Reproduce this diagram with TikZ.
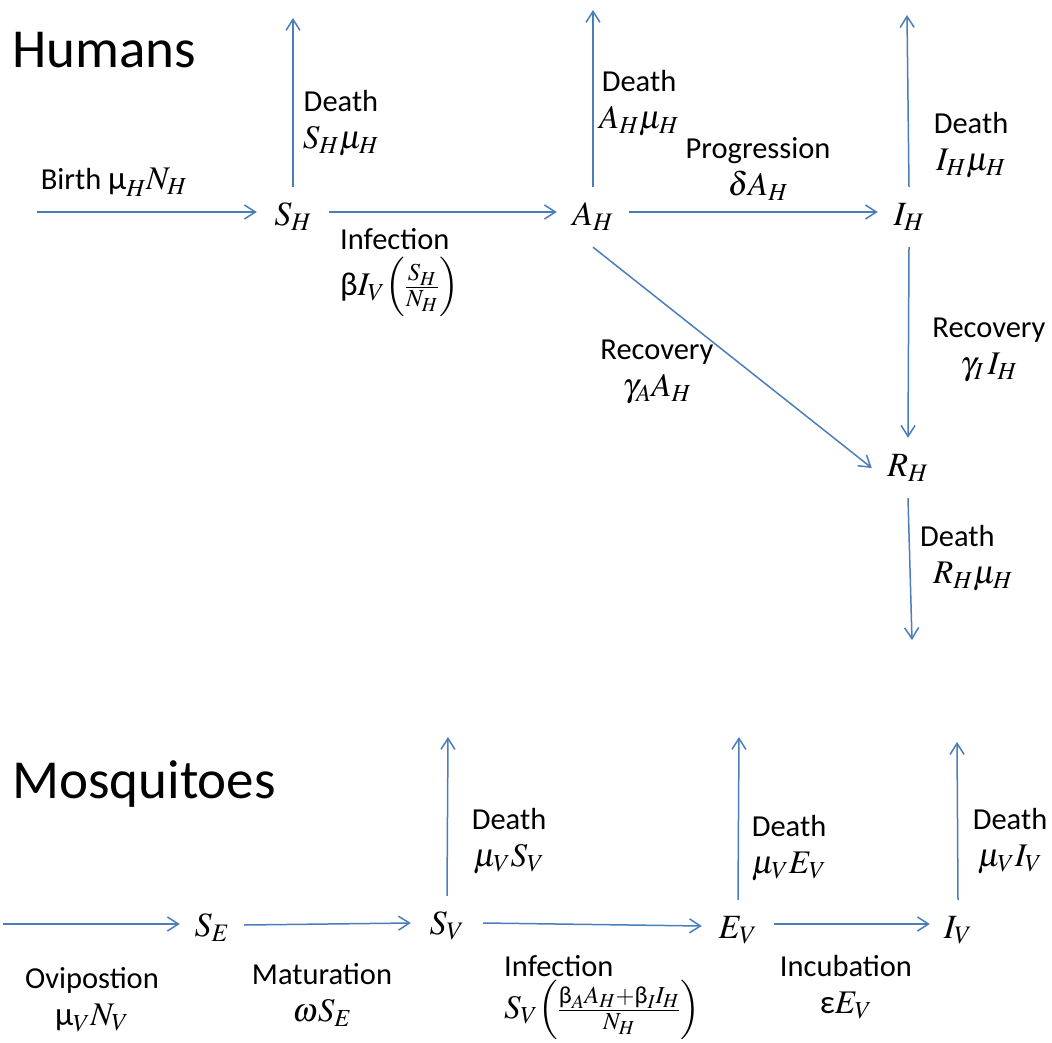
\RequirePackage{fix-cm}
\documentclass[tikz,border=0pt]{standalone}
\usepackage{amsmath}
\usepackage{mathptmx}
\usepackage{fontspec}
\setmainfont{Carlito}
\usetikzlibrary{arrows.meta}
\definecolor{flowblue}{RGB}{74,126,187}
% upright Greek letters taken from the text font
\newcommand{\ug}[1]{\text{#1}}
% formulas are set a little larger than the words
\newcommand{\fm}[1]{{\fontsize{33}{37}\selectfont$#1$}}

\begin{document}
\begin{tikzpicture}[x=1pt,y=-1pt,
  flow/.style={draw=flowblue, line width=1.5pt,
    -{Straight Barb[length=11pt,width=14pt,line width=1.5pt]}},
  comp/.style={inner sep=0pt, minimum width=72pt, minimum height=60pt,
    font=\fontsize{34}{37}\selectfont},
  lbl/.style={inner sep=0pt, align=center, font=\fontsize{30.5}{37}\selectfont},
  lbll/.style={inner sep=0pt, align=left, font=\fontsize{30.5}{37}\selectfont},
  heading/.style={inner sep=0pt, anchor=base west, font=\fontsize{55}{60}\selectfont}]

\useasboundingbox (0,0) rectangle (1052,1043);

% ---------------- Humans ----------------
\node[heading] (humans) at (12,68) {Humans};

\node[comp] (SH) at (293,217) {$S_H$};
\node[comp] (AH) at (593,217) {$A_H$};
\node[comp, minimum width=62pt] (IH) at (909,217) {$I_H$};
\node[comp] (RH) at (908,468) {$R_H$};

\coordinate (birth) at (37,212);
\coordinate (SHd) at (293,18);
\coordinate (AHd) at (593,10);
\coordinate (IHd) at (907,15);
\coordinate (RHd) at (912,640);

\draw[flow] (birth) -- ([yshift=5pt]SH.west);
\draw[flow] ([yshift=5pt]SH.east) -- ([yshift=5pt]AH.west);
\draw[flow] ([yshift=5pt]AH.east) -- ([yshift=5pt]IH.west);
\draw[flow] (SH.north) -- (SHd);
\draw[flow] (AH.north) -- (AHd);
\draw[flow] (IH.north) -- (IHd);
\draw[flow] (IH.south) -- (RH.north);
\draw[flow] (AH.south) -- (RH.west);
\draw[flow] (RH.south) -- (RHd);

\node[lbl, anchor=base] (lbirth) at (114,190) {Birth \fm{\ug{μ}_H N_H}};
\node[lbl, anchor=north] (lSHd) at (341,90) {Death\\\fm{S_H\mu_H}};
\node[lbll, anchor=north west] (linfH) at (340,228)
  {Infection\\[7pt]\fm{\ug{β}I_V\Bigl(\frac{S_H}{N_H}\Bigr)}};
\node[lbl, anchor=north] (lAHd) at (639,70) {Death\\\fm{A_H\mu_H}};
\node[lbl, anchor=north] (lprog) at (758,137) {Progression\\\fm{\delta A_H}};
\node[lbl, anchor=north] (lIHd) at (971,112) {Death\\\fm{I_H\mu_H}};
\node[lbl, anchor=north] (lrecI) at (989,318) {Recovery\\\fm{\gamma_I\, I_H}};
\node[lbl, anchor=north] (lrecA) at (657,340) {Recovery\\\fm{\gamma_A A_H}};
\node[lbll, anchor=north west] (lRHd) at (920,525) {Death\\\hspace*{13pt}\fm{R_H\mu_H}};

% ---------------- Mosquitoes ----------------
\node[heading] (mosq) at (12,798) {Mosquitoes};

\node[comp, minimum width=64pt] (SE) at (212,928) {$S_E$};
\node[comp] (SV) at (447,926) {$S_V$};
\node[comp] (EV) at (738,930) {$E_V$};
\node[comp, minimum width=56pt] (IV) at (958,930) {$I_V$};

\coordinate (ovi) at (3,924);
\coordinate (SVd) at (448,737);
\coordinate (EVd) at (739,737);
\coordinate (IVd) at (957,742);

\draw[flow] (ovi) -- ([yshift=4pt]SE.west);
\draw[flow] ([yshift=3pt]SE.east) -- ([yshift=3pt]SV.west);
\draw[flow] ([yshift=3pt]SV.east) -- ([yshift=4pt]EV.west);
\draw[flow] ([yshift=6pt]EV.east) -- ([yshift=6pt]IV.west);
\draw[flow] (SV.north) -- (SVd);
\draw[flow] (EV.north) -- (EVd);
\draw[flow] (IV.north) -- (IVd);

\node[lbl, anchor=north] (lovi) at (92,967) {Ovipostion\\\fm{\ug{μ}_V N_V}};
\node[lbl, anchor=north] (lmat) at (322,963) {Maturation\\\fm{\omega S_E}};
\node[lbll, anchor=north west] (linfV) at (504,955)
  {Infection\\[3pt]\fm{S_V\Bigl(\frac{\ug{β}_A A_H+\ug{β}_I I_H}{N_H}\Bigr)}};
\node[lbl, anchor=north] (linc) at (846,955) {Incubation\\\fm{\ug{ε}E_V}};
\node[lbl, anchor=north] (lSVd) at (509,808) {Death\\\fm{\mu_V S_V}};
\node[lbl, anchor=north] (lEVd) at (789,815) {Death\\\fm{\mu_V E_V}};
\node[lbl, anchor=north] (lIVd) at (1010,808) {Death\\\fm{\mu_V I_V}};

\end{tikzpicture}
\end{document}
